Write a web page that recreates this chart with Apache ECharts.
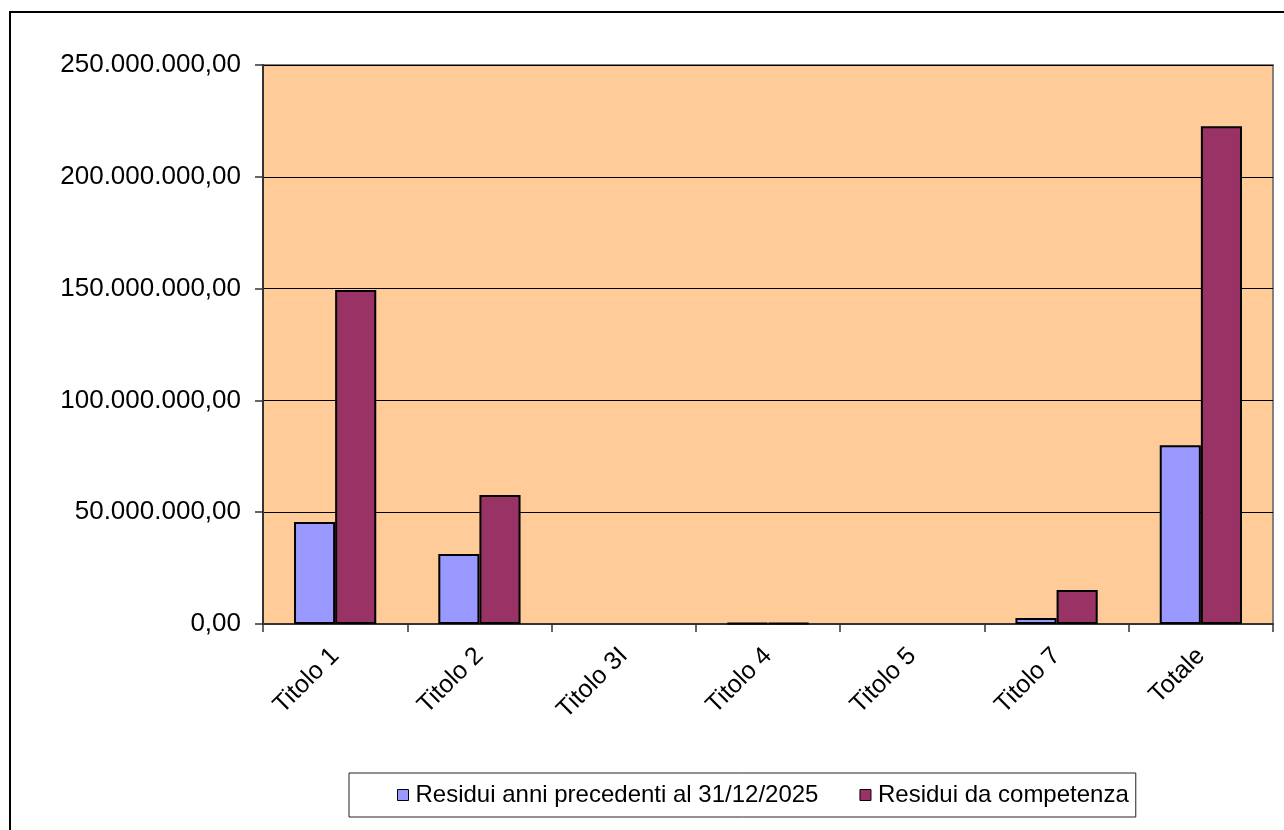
<!DOCTYPE html>
<html>
<head>
<meta charset="utf-8">
<script src="https://cdn.jsdelivr.net/npm/echarts@6/dist/echarts.min.js"></script>
<style>
html,body{margin:0;padding:0;background:#fff;}
#c{width:1284px;height:830px;}
</style>
</head>
<body>
<div id="c"></div>
<script>
const categories = ['Titolo 1', 'Titolo 2', 'Titolo 3I', 'Titolo 4', 'Titolo 5', 'Titolo 7', 'Totale'];
const seriesNames = ['Residui anni precedenti al 31/12/2025', 'Residui da competenza'];
const residuiPrecedenti = [45600000, 31300000, 0, 400000, 0, 2700000, 79900000];
const residuiCompetenza = [149400000, 57700000, 0, 400000, 0, 15200000, 222600000];
const yTicks = { min: 0, max: 250000000, interval: 50000000 };

function fmtIt(v) {
  const s = Math.round(v).toString().replace(/\B(?=(\d{3})+(?!\d))/g, '.');
  return s + ',00';
}
// zero values are drawn as no bar (as in the original)
const noZero = arr => arr.map(v => (v === 0 ? null : v));

const chart = echarts.init(document.getElementById('c'));
const font = 'Liberation Sans, Arial, sans-serif';
chart.setOption({
  animation: false,
  backgroundColor: '#ffffff',
  textStyle: { fontFamily: font },
  graphic: [{
    type: 'rect',
    shape: { x: 10, y: 12, width: 1300, height: 900 },
    style: { fill: 'none', stroke: '#000', lineWidth: 2 },
    silent: true
  }],
  grid: {
    left: 263, right: 11, top: 65, bottom: 206,
    show: true, backgroundColor: '#FFCC99', borderColor: '#808080', borderWidth: 2
  },
  legend: {
    left: 349, top: 773,
    padding: [10, 7, 10, 48],
    itemGap: 41,
    itemWidth: 11, itemHeight: 11,
    icon: 'rect',
    borderColor: '#222', borderWidth: 1,
    textStyle: { fontFamily: font, fontSize: 24, color: '#000', padding: [0, 0, 0, 2] },
    itemStyle: { borderColor: '#000', borderWidth: 1 },
    data: seriesNames
  },
  xAxis: {
    type: 'category',
    data: categories,
    axisLine: { lineStyle: { color: '#333', width: 2 } },
    axisTick: { show: true, length: 8, lineStyle: { color: '#333', width: 1.5 } },
    axisLabel: { rotate: 45, fontSize: 25, color: '#000', margin: 28, fontFamily: font, interval: 0 }
  },
  yAxis: {
    type: 'value',
    min: yTicks.min, max: yTicks.max, interval: yTicks.interval,
    axisLine: { show: true, lineStyle: { color: '#333', width: 2 } },
    axisTick: { show: true, length: 8, lineStyle: { color: '#333', width: 1.5 } },
    splitLine: { lineStyle: { color: '#000', width: 1 } },
    axisLabel: { formatter: fmtIt, fontSize: 26, color: '#000', margin: 22, fontFamily: font }
  },
  series: [
    {
      name: seriesNames[0], type: 'bar', data: noZero(residuiPrecedenti),
      barGap: '0%', barCategoryGap: '43%',
      itemStyle: { color: '#9999FF', borderColor: '#000', borderWidth: 2 }
    },
    {
      name: seriesNames[1], type: 'bar', data: noZero(residuiCompetenza),
      barGap: '0%', barCategoryGap: '43%',
      itemStyle: { color: '#993366', borderColor: '#000', borderWidth: 2 }
    }
  ]
});
</script>
</body>
</html>
